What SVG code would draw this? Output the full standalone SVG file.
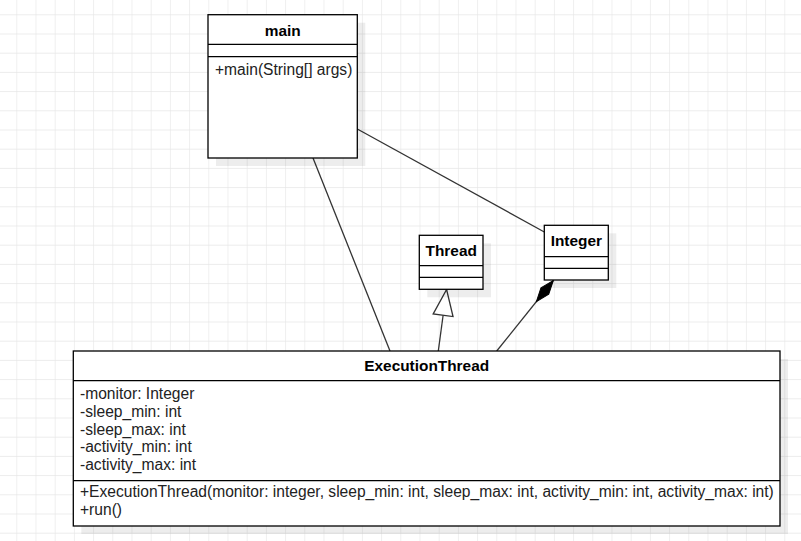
<svg xmlns="http://www.w3.org/2000/svg" width="801" height="541" viewBox="0 0 801 541">
  <defs>
    <pattern id="grid" x="16.3" y="14.3" width="19.2" height="19.2" patternUnits="userSpaceOnUse">
      <path d="M0,0 H19.2 M0,0 V19.2" fill="none" stroke="#e6e6e6" stroke-width="1.2"/>
    </pattern>
    <marker id="gen" viewBox="-2 -2 30 24" markerWidth="30" markerHeight="24" refX="26" refY="10" orient="auto" markerUnits="userSpaceOnUse">
      <path d="M0,0 L26,10 L0,20 Z" fill="#fff" stroke="#333" stroke-width="1.3"/>
    </marker>
    <marker id="comp" viewBox="-2 -2 31 14" markerWidth="31" markerHeight="14" refX="27" refY="5" orient="auto" markerUnits="userSpaceOnUse">
      <path d="M0,5 L13.5,0 L27,5 L13.5,10 Z" fill="#000" stroke="#000" stroke-width="1"/>
    </marker>
  </defs>
  <style>
    .box { fill: #fff; stroke: #000; stroke-width: 1.3; }
    .shadow { fill: #000; opacity: 0.07; }
    .sep { stroke: #000; stroke-width: 1.3; }
    .title { font-family: "Liberation Sans", Arial, sans-serif; font-size: 15.4px; font-weight: bold; fill: #000; text-anchor: middle; }
    .txt { font-family: "Liberation Sans", Arial, sans-serif; font-size: 15.6px; fill: #222; }
    .edge { fill: none; stroke: #333; stroke-width: 1.3; }
  </style>
  <rect x="0" y="0" width="801" height="541" fill="#fff"/>
  <rect x="0" y="0" width="801" height="541" fill="url(#grid)"/>

  <g id="connectors">
    <path class="edge" d="M313,158 L390,351"/>
    <path class="edge" d="M357.3,129 L544.3,232"/>
    <path class="edge" d="M438.3,351 L446.6,289.5" marker-end="url(#gen)"/>
    <path class="edge" d="M496.7,351 L553.3,280.5" marker-end="url(#comp)"/>
  </g>

  <g id="main">
    <rect class="shadow" x="216" y="22.7" width="149.3" height="143.3"/>
    <rect class="box" x="208" y="14.7" width="149.3" height="143.3"/>
    <line class="sep" x1="208" y1="44.3" x2="357.3" y2="44.3"/>
    <line class="sep" x1="208" y1="56.7" x2="357.3" y2="56.7"/>
    <text class="title" x="282.7" y="35.5">main</text>
    <text class="txt" x="215" y="75">+main(String[] args)</text>
  </g>

  <g id="Thread">
    <rect class="shadow" x="427.3" y="243.3" width="63.7" height="54"/>
    <rect class="box" x="419.3" y="235.3" width="63.7" height="54"/>
    <line class="sep" x1="419.3" y1="265.7" x2="483" y2="265.7"/>
    <line class="sep" x1="419.3" y1="277.3" x2="483" y2="277.3"/>
    <text class="title" x="451.2" y="255.7">Thread</text>
  </g>

  <g id="Integer">
    <rect class="shadow" x="552.3" y="233.3" width="64" height="54.7"/>
    <rect class="box" x="544.3" y="225.3" width="64" height="54.7"/>
    <line class="sep" x1="544.3" y1="256.7" x2="608.3" y2="256.7"/>
    <line class="sep" x1="544.3" y1="268.3" x2="608.3" y2="268.3"/>
    <text class="title" x="576.3" y="246">Integer</text>
  </g>

  <g id="ExecutionThread">
    <rect class="shadow" x="81.3" y="359" width="706.7" height="175"/>
    <rect class="box" x="73.3" y="351" width="706.7" height="175"/>
    <line class="sep" x1="73.3" y1="380.7" x2="780" y2="380.7"/>
    <line class="sep" x1="73.3" y1="480.7" x2="780" y2="480.7"/>
    <text class="title" x="426.7" y="371">ExecutionThread</text>
    <text class="txt" x="80" y="399">-monitor: Integer</text>
    <text class="txt" x="80" y="416.75">-sleep_min: int</text>
    <text class="txt" x="80" y="434.5">-sleep_max: int</text>
    <text class="txt" x="80" y="452.25">-activity_min: int</text>
    <text class="txt" x="80" y="470">-activity_max: int</text>
    <text class="txt" x="80" y="496.5">+ExecutionThread(monitor: integer, sleep_min: int, sleep_max: int, activity_min: int, activity_max: int)</text>
    <text class="txt" x="80" y="514.5">+run()</text>
  </g>
</svg>
